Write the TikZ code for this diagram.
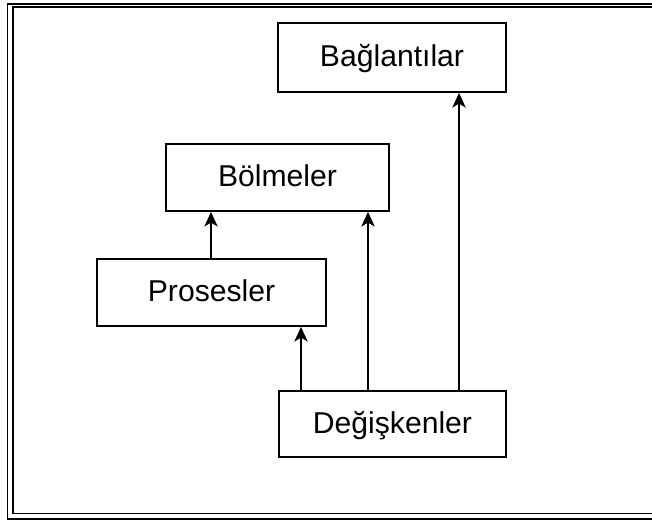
\documentclass[tikz,border=0pt]{standalone}
\usepackage{fontspec}
\setmainfont{Liberation Sans}
\usetikzlibrary{arrows.meta}
\begin{document}
\begin{tikzpicture}[x=0.75pt,y=-0.75pt,
  box/.style={draw,line width=1.3pt,inner sep=0pt,text depth=0.25em,font=\fontsize{22.6pt}{26pt}\selectfont},
  arr/.style={line width=1.4pt,-{Stealth[length=11pt,width=10pt,inset=3pt]}}]
\useasboundingbox (0,0) rectangle (652,521);
\clip (0,0) rectangle (652,521);
\fill[white] (0,0) rectangle (652,521);
\draw[line width=1.3pt] (7.6,3.7) rectangle (680,519);
\draw[line width=1.3pt] (13.2,7.2) rectangle (670,513.6);
% boxes
\node[box,minimum width=228*0.75pt,minimum height=69*0.75pt] (bag) at (392,57.5) {Bağlantılar};
\node[box,minimum width=223*0.75pt,minimum height=67*0.75pt] (bol) at (277.5,177.5) {Bölmeler};
\node[box,minimum width=229*0.75pt,minimum height=67*0.75pt] (pro) at (211.5,292.5) {Prosesler};
\node[box,minimum width=227*0.75pt,minimum height=66*0.75pt] (deg) at (392.5,424) {Değişkenler};
% connectors
\draw[arr] (pro.north -| 211,0) -- (bol.south -| 211,0);
\draw[arr] (deg.north -| 301,0) -- (pro.south -| 301,0);
\draw[arr] (deg.north -| 368,0) -- (bol.south -| 368,0);
\draw[arr] (deg.north -| 459,0) -- (bag.south -| 459,0);
\end{tikzpicture}
\end{document}
